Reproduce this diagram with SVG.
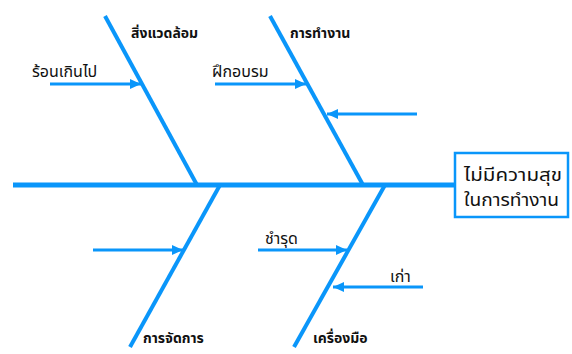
<svg xmlns="http://www.w3.org/2000/svg" width="572" height="354" viewBox="0 0 572 354">
<style>
.bone{stroke:#0A96FA;stroke-width:4;fill:none}
.spine{stroke:#0A96FA;stroke-width:5;fill:none}
.sub{stroke:#0A96FA;stroke-width:3;fill:none}
.cat{font-family:"Noto Sans Thai","Noto Sans","DejaVu Sans",sans-serif;font-size:14px;font-weight:bold;fill:#111}
.lbl{font-family:"Noto Sans Thai","Noto Sans","DejaVu Sans",sans-serif;font-size:16px;fill:#111}
.head{font-family:"Noto Sans Thai","Noto Sans","DejaVu Sans",sans-serif;font-size:18px;fill:#111}
</style>
<defs>
<marker id="ah" markerUnits="userSpaceOnUse" markerWidth="12" markerHeight="12" viewBox="0 0 12 12" refX="11" refY="6" orient="auto">
<path d="M0,1 L11,6 L0,11 Z" fill="#0A96FA"/>
</marker>
</defs>
<rect width="572" height="354" fill="#fff"/>
<g id="connectors">
<line class="spine" x1="13" y1="185" x2="455" y2="185"/>
<line class="bone" x1="105" y1="16" x2="197" y2="185"/>
<line class="bone" x1="270" y1="16" x2="363" y2="185"/>
<line class="bone" x1="220" y1="185" x2="130" y2="347"/>
<line class="bone" x1="385" y1="185" x2="294" y2="347"/>
<line class="sub" x1="50" y1="84" x2="141" y2="84" marker-end="url(#ah)"/>
<line class="sub" x1="215" y1="84" x2="306" y2="84" marker-end="url(#ah)"/>
<line class="sub" x1="417" y1="114" x2="327" y2="114" marker-end="url(#ah)"/>
<line class="sub" x1="93" y1="250" x2="183" y2="250" marker-end="url(#ah)"/>
<line class="sub" x1="258" y1="250" x2="347" y2="250" marker-end="url(#ah)"/>
<line class="sub" x1="423" y1="287" x2="333" y2="287" marker-end="url(#ah)"/>
</g>
<g id="head">
<rect x="455" y="153" width="113" height="64" fill="#fff" stroke="#0A96FA" stroke-width="2.5"/>
<text class="head" x="464" y="181" textLength="98" lengthAdjust="spacingAndGlyphs">ไม่มีความสุข</text>
<text class="head" x="464" y="206" textLength="95" lengthAdjust="spacingAndGlyphs">ในการทำงาน</text>
</g>
<g id="cat-environment"><text class="cat" x="131" y="38">สิ่งแวดล้อม</text></g>
<g id="cat-work"><text class="cat" x="290" y="38">การทำงาน</text></g>
<g id="cat-management"><text class="cat" x="143" y="343">การจัดการ</text></g>
<g id="cat-tools"><text class="cat" x="313" y="343">เครื่องมือ</text></g>
<g id="cause-hot"><text class="lbl" x="32" y="77">ร้อนเกินไป</text></g>
<g id="cause-training"><text class="lbl" x="212" y="77">ฝึกอบรม</text></g>
<g id="cause-broken"><text class="lbl" x="265" y="244">ชำรุด</text></g>
<g id="cause-old"><text class="lbl" x="390" y="282">เก่า</text></g>
</svg>
